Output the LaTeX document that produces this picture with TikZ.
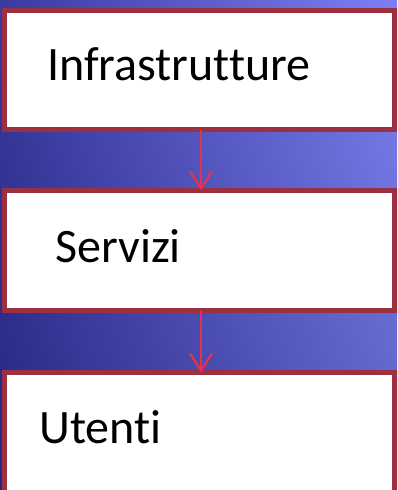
\documentclass[tikz,border=0pt]{standalone}
\usepackage{fontspec}
\setmainfont{Carlito}[Ligatures={NoCommon}]
\usetikzlibrary{arrows.meta,shadings}
\definecolor{bordc}{HTML}{9B3040}
\definecolor{arrc}{HTML}{E6304E}
\definecolor{bgul}{HTML}{3A3AA0}
\definecolor{bgur}{HTML}{7C80F2}
\definecolor{bgll}{HTML}{262680}
\definecolor{bglr}{HTML}{5C62C4}
\tikzset{
  box/.style={draw=bordc, fill=white, line width=5pt, rectangle, minimum width=390pt, minimum height=119pt, inner sep=0pt, outer sep=0pt},
  lbl/.style={anchor=base west, inner sep=0pt, font=\fontsize{48}{58}\selectfont, text=black},
  arr/.style={draw=arrc, line width=2.2pt, -{Straight Barb[length=17pt,width=22pt,line width=2.2pt]}}
}
\begin{document}
\begin{tikzpicture}[x=1pt,y=-1pt]
\useasboundingbox (0,0) rectangle (397,490);
\clip (0,0) rectangle (397,490);
\shade[upper left=bgul, upper right=bgur, lower left=bgll, lower right=bglr] (0,0) rectangle (397,490);
\node[box] (b1) at (199.5,70) {};
\node[box, minimum height=120pt] (b2) at (199.5,250.5) {};
\node[box, minimum height=120pt] (b3) at (199.5,432.5) {};
\node[lbl] (t1) at (47,80) {Infrastrutture};
\node[lbl] (t2) at (55,262) {Servizi};
\node[lbl] (t3) at (39,443) {Utenti};
\draw[arr] ([xshift=1.5pt]b1.south) -- ([xshift=1.5pt]b2.north);
\draw[arr] ([xshift=1.5pt]b2.south) -- ([xshift=1.5pt]b3.north);
\end{tikzpicture}
\end{document}
